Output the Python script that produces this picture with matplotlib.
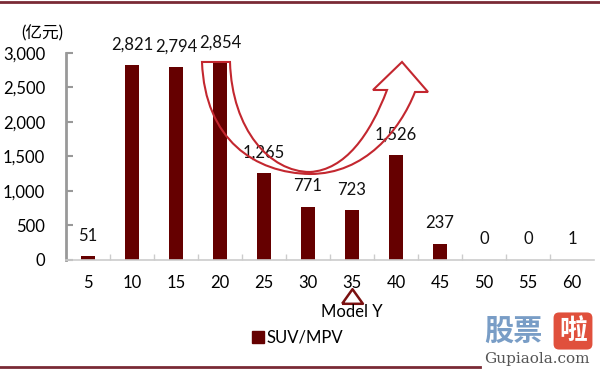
import matplotlib
matplotlib.use("Agg")
import matplotlib.pyplot as plt
import matplotlib.transforms as mtransforms
from matplotlib.path import Path
from matplotlib.patches import PathPatch
from matplotlib.lines import Line2D

plt.rcParams['font.family'] = ['Lato', 'Noto Sans CJK SC', 'DejaVu Sans']

# price band (万元) and sales (亿元)
categories = ['5', '10', '15', '20', '25', '30', '35', '40', '45', '50', '55', '60']
values = [51, 2821, 2794, 2854, 1265, 771, 723, 1526, 237, 0, 0, 1]
value_labels = ['51', '2,821', '2,794', '2,854', '1,265', '771', '723', '1,526', '237', '0', '0', '1']
yticks = [0, 500, 1000, 1500, 2000, 2500, 3000]
ytick_labels = ['0', '500', '1,000', '1,500', '2,000', '2,500', '3,000']
series_name = 'SUV/MPV'

bar_color = '#650000'
red = '#c3272f'

fig = plt.figure(figsize=(6, 3.71), dpi=100)
ax = fig.add_axes([0.11, 0.2992, 0.88, 0.558])

x = list(range(len(categories)))
ax.bar(x, values, width=0.3, color=bar_color, zorder=2)
for xi, v, lab in zip(x, values, value_labels):
    ax.annotate(lab, (xi, v), xytext=(0, 9), textcoords='offset points',
                ha='center', va='bottom', fontsize=12, color='#111111')

ax.set_xlim(-0.5, len(categories) - 0.5)
ax.set_ylim(0, 3000)
ax.set_yticks(yticks)
ax.set_yticklabels(ytick_labels)
ax.set_xticks(x)
ax.set_xticklabels(categories)
ax.set_xticks([i + 0.5 for i in x[:-1]], minor=True)
ax.tick_params(axis='y', direction='in', length=5, width=1.5, color='#999999',
               labelsize=12, pad=15)
ax.tick_params(axis='x', which='major', length=0, labelsize=12, pad=11)
ax.tick_params(axis='x', which='minor', direction='in', length=4, width=1, color='#cccccc')
for s in ['top', 'right']:
    ax.spines[s].set_visible(False)
ax.spines['left'].set_color('#999999')
ax.spines['left'].set_linewidth(2)
ax.spines['bottom'].set_color('#cccccc')
ax.spines['bottom'].set_linewidth(1.2)

fig.text(0.07, 0.911, '(亿元)', fontsize=12, ha='center', va='center')

# U-turn arrow annotation, sketched in pixel space then mapped to data
def d(px, py):
    return ((px - 88) / 44.0, (260 - py) * 3000 / 207.0)

pts = [
    (d(202, 62), Path.MOVETO),
    (d(205, 140), Path.CURVE4), (d(255, 173), Path.CURVE4), (d(310, 174), Path.CURVE4),
    (d(365, 174), Path.CURVE4), (d(400, 130), Path.CURVE4), (d(415, 92), Path.CURVE4),
    (d(428, 92), Path.LINETO),
    (d(402, 62), Path.LINETO),
    (d(373, 90), Path.LINETO),
    (d(387, 90), Path.LINETO),
    (d(370, 135), Path.CURVE4), (d(345, 170), Path.CURVE4), (d(310, 172), Path.CURVE4),
    (d(270, 172), Path.CURVE4), (d(232, 130), Path.CURVE4), (d(230, 62), Path.CURVE4),
    (d(202, 62), Path.CLOSEPOLY),
]
verts, codes = zip(*pts)
ax.add_patch(PathPatch(Path(verts, codes), facecolor='none', edgecolor=red,
                       lw=1.5, zorder=3, clip_on=False))

# Model Y marker under the 35 band
tri = [(-1, -0.7), (1, -0.7), (0, 0.7), (-1, -0.7)]
mk, = ax.plot([6], [0], marker=tri, ms=15, mfc='white', mec='#7a1010',
              mew=1.8, clip_on=False, zorder=4, linestyle='none')
mk.set_transform(ax.transData + mtransforms.ScaledTranslation(0, -0.36, fig.dpi_scale_trans))
fig.text(0.587, 1 - 312 / 371, 'Model Y', fontsize=12, ha='center', va='center')

# legend
fig.legend(handles=[Line2D([], [], marker='s', color=bar_color, ms=8, linestyle='none')],
           labels=[series_name], loc='center left', bbox_to_anchor=(0.405, 0.089), frameon=False,
           fontsize=12, handletextpad=0.1, handlelength=0.8, borderpad=0)

# frame lines
fig.add_artist(Line2D([0, 1], [0.995, 0.995], transform=fig.transFigure, color='#7a2a35', lw=2))
fig.add_artist(Line2D([0, 0.8], [0.01, 0.01], transform=fig.transFigure, color='#7a2a35', lw=2))

# site watermark
fig.text(0.855, 1 - 331 / 371, '股票', fontsize=21, fontweight='bold', color='#6a93c0',
         ha='center', va='center', alpha=0.9)
fig.text(0.955, 1 - 331 / 371, '啦', fontsize=20, fontweight='bold', color='white',
         ha='center', va='center',
         bbox=dict(boxstyle='round,pad=0.2', fc='#e0503c', ec='none'))
fig.text(0.895, 1 - 359 / 371, 'Gupiaola.com', fontsize=11, family='DejaVu Serif',
         color='#555555', ha='center', va='center')

fig.savefig('out.png', dpi=100)
